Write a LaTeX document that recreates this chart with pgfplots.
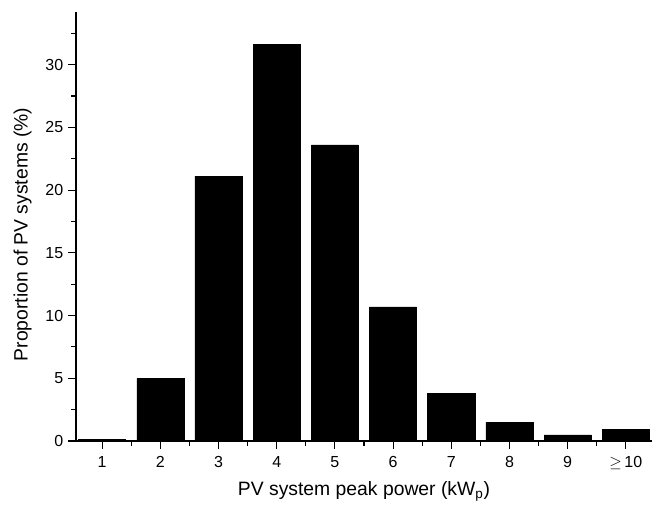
\documentclass[border=0pt]{standalone}
\usepackage{fontspec}
\setmainfont{Liberation Sans}
\usepackage{pgfplots}
\pgfplotsset{compat=1.18}
\begin{document}
\begin{tikzpicture}[x=0.75pt, y=0.75pt]
% page frame in reference pixels, axis origin at (0,0)
\useasboundingbox (-76,-68) rectangle (580,441);
\begin{axis}[
  at={(0,0)}, anchor=origin,
  scale only axis,
  width=432pt, height=321.75pt,
  axis x line*=bottom, axis y line*=left,
  xmin=0.55, xmax=10.45,
  ymin=0, ymax=34.2,
  xtick={1,...,10},
  xticklabels={1,2,3,4,5,6,7,8,9,{$\geq$\,10}},
  minor xtick={1.5,2.5,...,9.5},
  ytick={0,5,...,30},
  minor ytick={2.5,7.5,...,32.5},
  tick align=outside,
  major tick length=6pt, minor tick length=3.5pt,
  tick style={black, line width=0.8pt},
  axis line style={black, line width=0.9pt},
  ticklabel style={font=\fontsize{12}{14}\selectfont},
  xticklabel style={yshift=-2pt},
  /pgf/number format/assume math mode=true,
  xlabel={PV system peak power (kW\textsubscript{p})},
  ylabel={Proportion of PV systems (\%)},
  label style={font=\fontsize{14.5}{16}\selectfont},
  xlabel style={at={(axis description cs:0.5,0)}, anchor=center, yshift=-38pt},
  ylabel style={at={(axis description cs:0,0.5)}, anchor=center, yshift=40pt, xshift=-6pt},
  ybar, bar width=0.81,
]
\addplot[fill=black, draw=black] coordinates {
  (1,0.15) (2,5.0) (3,21.1) (4,31.6) (5,23.6)
  (6,10.7) (7,3.8) (8,1.5) (9,0.48) (10,0.9)
};
\end{axis}
\end{tikzpicture}
\end{document}
